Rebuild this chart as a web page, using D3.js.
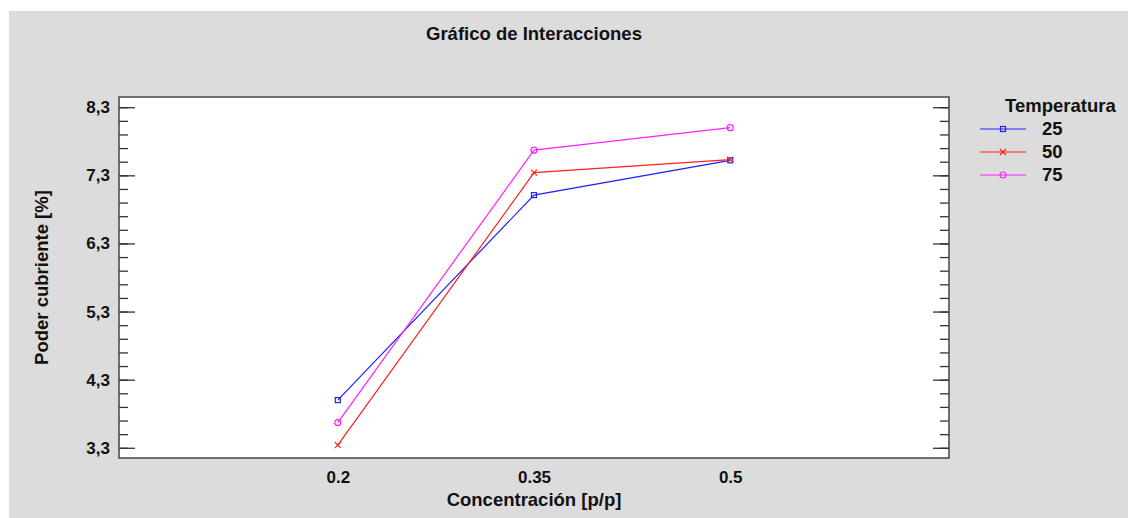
<!DOCTYPE html>
<html>
<head>
<meta charset="utf-8">
<script src="https://cdn.jsdelivr.net/npm/d3@7"></script>
<style>
  html, body { margin: 0; padding: 0; background: #ffffff; }
  svg { display: block; }
  text { font-family: "Liberation Sans", Arial, sans-serif; font-weight: bold; fill: #111; }
</style>
</head>
<body>
<svg id="chart" width="1128" height="518"></svg>
<script>
// Concentration levels (x categories)
const concentrations = ["0.2", "0.35", "0.5"];
// Temperature groups
const temperatures = ["25", "50", "75"];
// Mean covering power [%] per temperature at each concentration
const values25 = [4.00, 7.01, 7.52];
const values50 = [3.34, 7.34, 7.53];
const values75 = [3.67, 7.67, 8.00];
const yTicks = [3.3, 4.3, 5.3, 6.3, 7.3, 8.3];
const seriesColors = ["#2020ff", "#ff2020", "#ff20ff"];
const seriesMarkers = ["square", "cross", "circle"];

const series = [
  { name: temperatures[0], values: values25, color: seriesColors[0], marker: seriesMarkers[0] },
  { name: temperatures[1], values: values50, color: seriesColors[1], marker: seriesMarkers[1] },
  { name: temperatures[2], values: values75, color: seriesColors[2], marker: seriesMarkers[2] }
];

const svg = d3.select("#chart");
const W = 1128, H = 518;
const plot = { left: 119, top: 97, right: 949, bottom: 458 };
const titleSize = 18.5, tickSize = 17;

// Gray panel
svg.append("rect").attr("x", 9).attr("y", 11).attr("width", W - 9).attr("height", H - 11)
  .attr("fill", "#dcdcdc");

// Plot area
svg.append("rect")
  .attr("x", plot.left).attr("y", plot.top)
  .attr("width", plot.right - plot.left).attr("height", plot.bottom - plot.top)
  .attr("fill", "#ffffff");

const x = d3.scalePoint().domain(concentrations)
  .range([plot.left, plot.right]).padding(1.115);
const y = d3.scaleLinear().domain([3.15, 8.45]).range([plot.bottom, plot.top]);

// Minor ticks every 0.2
const minorTicks = d3.range(0, 26).map(i => +(3.3 + i * 0.2).toFixed(2)).filter(v => v <= 8.3);

// Left axis (ticks drawn inward)
const leftMinor = d3.axisRight(y).tickValues(minorTicks).tickSize(9).tickFormat("");
const leftMajor = d3.axisRight(y).tickValues(yTicks).tickSize(16).tickFormat("");
[leftMinor, leftMajor].forEach(ax => {
  const g = svg.append("g").attr("transform", `translate(${plot.left},0)`).call(ax);
  g.select(".domain").remove();
  g.selectAll("line").attr("stroke", "#333").attr("stroke-width", 1.3);
});
// Right axis (ticks drawn inward)
const rightMinor = d3.axisLeft(y).tickValues(minorTicks).tickSize(9).tickFormat("");
const rightMajor = d3.axisLeft(y).tickValues(yTicks).tickSize(16).tickFormat("");
[rightMinor, rightMajor].forEach(ax => {
  const g = svg.append("g").attr("transform", `translate(${plot.right},0)`).call(ax);
  g.select(".domain").remove();
  g.selectAll("line").attr("stroke", "#333").attr("stroke-width", 1.3);
});

// Y tick labels
const yLabelAxis = d3.axisLeft(y).tickValues(yTicks).tickSize(0).tickPadding(9)
  .tickFormat(d => d3.format(".1f")(d).replace(".", ","));
const gy = svg.append("g").attr("transform", `translate(${plot.left},0)`).call(yLabelAxis);
gy.select(".domain").remove();
gy.selectAll("text").attr("font-size", tickSize).attr("font-family", "Liberation Sans, Arial, sans-serif")
  .attr("font-weight", "bold").attr("fill", "#111");

// X tick labels
const xAxis = d3.axisBottom(x).tickSize(0).tickPadding(13);
const gx = svg.append("g").attr("transform", `translate(0,${plot.bottom})`).call(xAxis);
gx.select(".domain").remove();
gx.selectAll("text").attr("font-size", tickSize).attr("font-family", "Liberation Sans, Arial, sans-serif")
  .attr("font-weight", "bold").attr("fill", "#111");

// Plot frame
svg.append("rect")
  .attr("x", plot.left).attr("y", plot.top)
  .attr("width", plot.right - plot.left).attr("height", plot.bottom - plot.top)
  .attr("fill", "none").attr("stroke", "#444").attr("stroke-width", 1.5);

// Marker drawing
function drawMarker(g, type, cx, cy, color) {
  if (type === "square") {
    g.append("rect").attr("x", cx - 2.5).attr("y", cy - 2.5).attr("width", 5).attr("height", 5)
      .attr("fill", "none").attr("stroke", color).attr("stroke-width", 1.2);
  } else if (type === "cross") {
    g.append("path").attr("d", `M${cx - 3},${cy - 3}L${cx + 3},${cy + 3}M${cx - 3},${cy + 3}L${cx + 3},${cy - 3}`)
      .attr("stroke", color).attr("stroke-width", 1.2).attr("fill", "none");
  } else {
    g.append("circle").attr("cx", cx).attr("cy", cy).attr("r", 3)
      .attr("fill", "none").attr("stroke", color).attr("stroke-width", 1.2);
  }
}

// Series lines and markers
const line = d3.line().x((d, i) => x(concentrations[i])).y(d => y(d));
series.forEach(s => {
  const g = svg.append("g");
  g.append("path").attr("d", line(s.values)).attr("fill", "none")
    .attr("stroke", s.color).attr("stroke-width", 1.2);
  s.values.forEach((v, i) => drawMarker(g, s.marker, x(concentrations[i]), y(v), s.color));
});

// Title
svg.append("text").attr("x", (plot.left + plot.right) / 2).attr("y", 40)
  .attr("text-anchor", "middle").attr("font-size", titleSize).text("Gráfico de Interacciones");

// Axis titles
svg.append("text").attr("x", (plot.left + plot.right) / 2).attr("y", 506)
  .attr("text-anchor", "middle").attr("font-size", titleSize).text("Concentración [p/p]");
svg.append("text").attr("transform", `translate(48,${(plot.top + plot.bottom) / 2}) rotate(-90)`)
  .attr("text-anchor", "middle").attr("font-size", titleSize).text("Poder cubriente [%]");

// Legend
const legend = svg.append("g");
legend.append("text").attr("x", 1005).attr("y", 112).attr("font-size", titleSize).text("Temperatura");
series.forEach((s, i) => {
  const ly = 129 + i * 23;
  legend.append("line").attr("x1", 980).attr("x2", 1026).attr("y1", ly).attr("y2", ly)
    .attr("stroke", s.color).attr("stroke-width", 1.2);
  drawMarker(legend, s.marker, 1003, ly, s.color);
  legend.append("text").attr("x", 1042).attr("y", ly + 6).attr("font-size", titleSize).text(s.name);
});
</script>
</body>
</html>
